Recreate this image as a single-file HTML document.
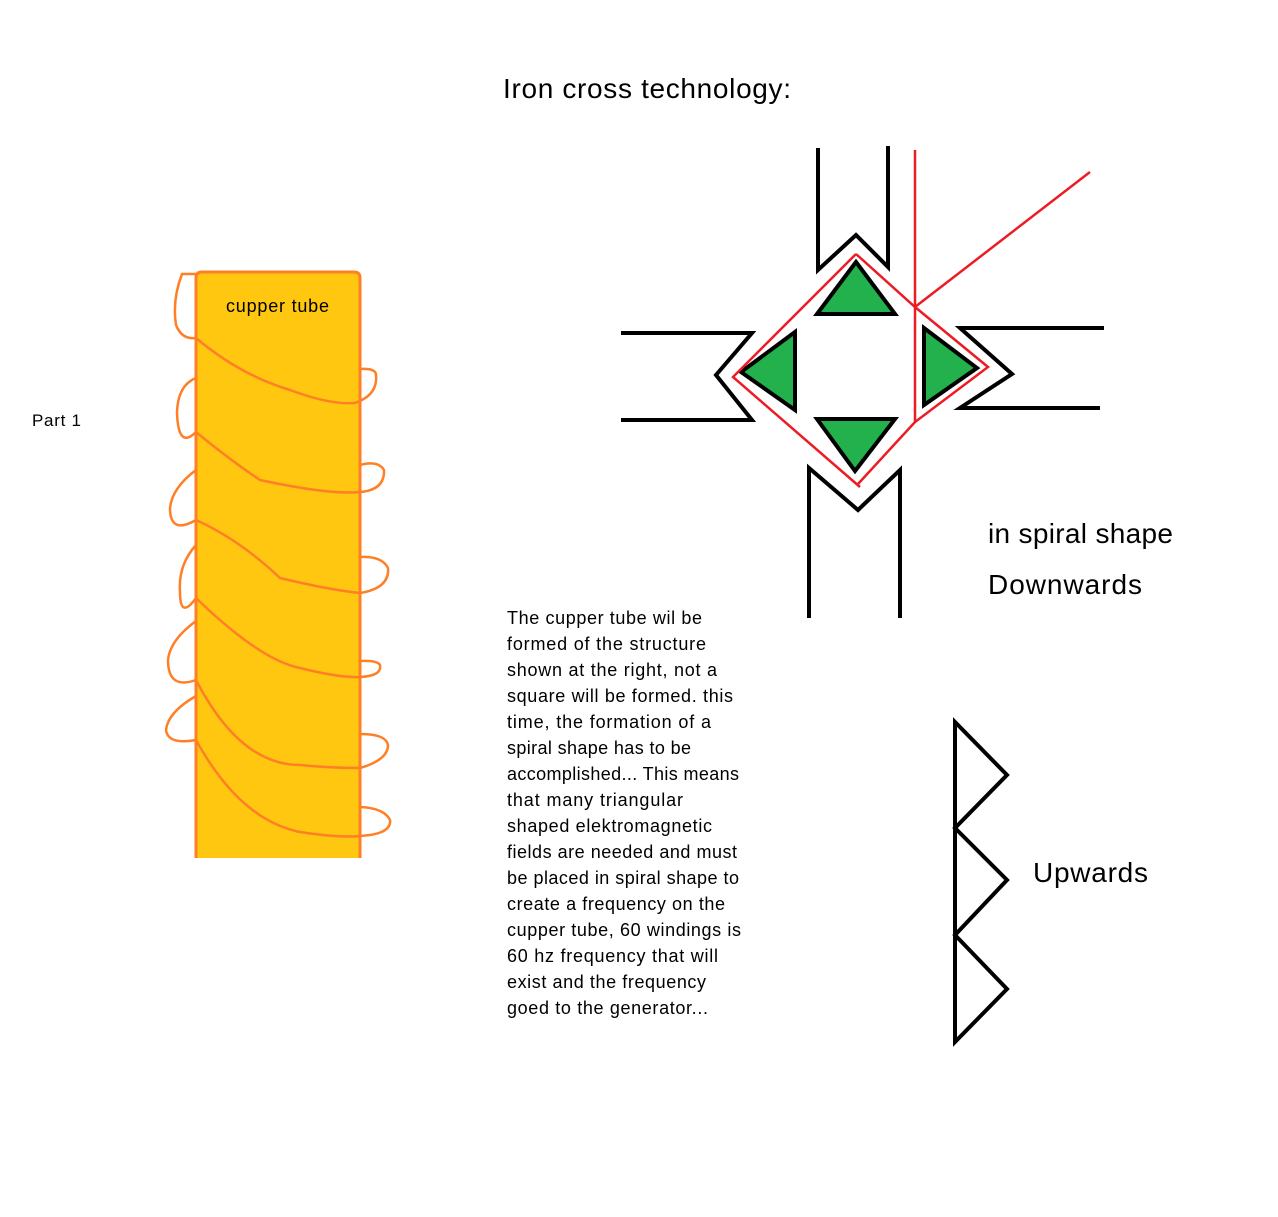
<!DOCTYPE html>
<html><head><meta charset="utf-8"><style>
body{margin:0;background:#fff;}
svg text{font-family:"Liberation Sans",sans-serif;}
</style></head><body>
<svg width="1278" height="1212" xmlns="http://www.w3.org/2000/svg">
<rect width="1278" height="1212" fill="#fff"/>
<text x="503" y="98" font-size="28" fill="#000" textLength="288">Iron cross technology:</text>
<text x="32" y="426" font-size="17" fill="#000" textLength="49">Part 1</text>
<!-- tube -->
<path d="M196,858 V278 Q196,272 202,272 H354 Q360,272 360,278 V858" fill="#FFC710" stroke="#FF7F27" stroke-width="3"/>
<text x="226" y="312" font-size="18" fill="#000" textLength="103">cupper tube</text>
<g fill="none" stroke="#FF7F27" stroke-width="2.5">
<path d="M196,274 H182 Q172,300 176,325 Q182,340 196,338 Q240,375 290,390 Q330,405 355,403 Q378,395 376,375 Q376,368 360,369"/>
<path d="M196,378 Q178,385 177,412 Q178,450 196,432 Q230,460 260,480 Q330,495 360,492 Q385,490 384,470 Q378,460 360,465"/>
<path d="M196,470 Q172,488 170,508 Q170,535 196,520 Q240,540 280,578 Q330,590 360,593 Q390,588 388,568 Q382,556 360,557"/>
<path d="M196,545 Q178,565 180,592 Q180,620 196,598 Q260,660 300,668 Q340,678 360,677 Q382,676 380,665 Q377,660 360,661"/>
<path d="M196,621 Q170,640 168,660 Q168,690 196,680 Q240,765 300,765 Q330,768 360,768 Q388,760 388,745 Q386,734 360,734"/>
<path d="M196,696 Q168,712 166,730 Q168,745 196,740 Q240,820 300,832 Q340,838 360,836 Q392,834 390,820 Q384,808 360,807"/>
</g>
<!-- black channels -->
<g fill="none" stroke="#000" stroke-width="4" stroke-linejoin="miter">
<path d="M818,148 V270 L856,235 L888,267 V146"/>
<path d="M809,618 V468 L858,510 L900,470 V618"/>
<path d="M621,333 H752 L716,375 L752,420 H621"/>
<path d="M1104,328 H960 L1012,374 L960,408 H1100"/>
<path d="M955,722 V1042 L1007,989 L955,935 L1007,880 L955,828 L1007,775 Z"/>
</g>
<!-- green triangles -->
<g fill="#22B14C" stroke="#000" stroke-width="4" stroke-linejoin="miter">
<path d="M856,262 L817,314 H895 Z"/>
<path d="M795,332 L741,372 L795,410 Z"/>
<path d="M924,328 L977,368 L924,405 Z"/>
<path d="M817,419 H895 L855,471 Z"/>
</g>
<!-- red -->
<g fill="none" stroke="#ED1C24" stroke-width="2.5">
<path d="M856,254 L733,377 L860,487"/>
<path d="M856,254 L915,307 L988,367 L915,422 L858,484"/>
<path d="M915,150 V422"/>
<path d="M915,307 L1090,172"/>
</g>
<text x="988" y="543" font-size="28" fill="#000" textLength="185">in spiral shape</text>
<text x="988" y="594" font-size="28" fill="#000" textLength="154">Downwards</text>
<text x="1033" y="882" font-size="28" fill="#000" textLength="115">Upwards</text>
<g font-size="18" fill="#000">
<text x="507" y="624" textLength="195">The cupper tube wil be</text>
<text x="507" y="650" textLength="199">formed of the structure</text>
<text x="507" y="676" textLength="210">shown at the right, not a</text>
<text x="507" y="702" textLength="226">square will be formed. this</text>
<text x="507" y="728" textLength="204">time, the formation of a</text>
<text x="507" y="754" textLength="184">spiral shape has to be</text>
<text x="507" y="780" textLength="232">accomplished... This means</text>
<text x="507" y="806" textLength="176">that many triangular</text>
<text x="507" y="832" textLength="205">shaped elektromagnetic</text>
<text x="507" y="858" textLength="230">fields are needed and must</text>
<text x="507" y="884" textLength="232">be placed in spiral shape to</text>
<text x="507" y="910" textLength="218">create a frequency on the</text>
<text x="507" y="936" textLength="234">cupper tube, 60 windings is</text>
<text x="507" y="962" textLength="211">60 hz frequency that will</text>
<text x="507" y="988" textLength="199">exist and the frequency</text>
<text x="507" y="1014" textLength="201">goed to the generator...</text>
</g>
</svg>
</body></html>
